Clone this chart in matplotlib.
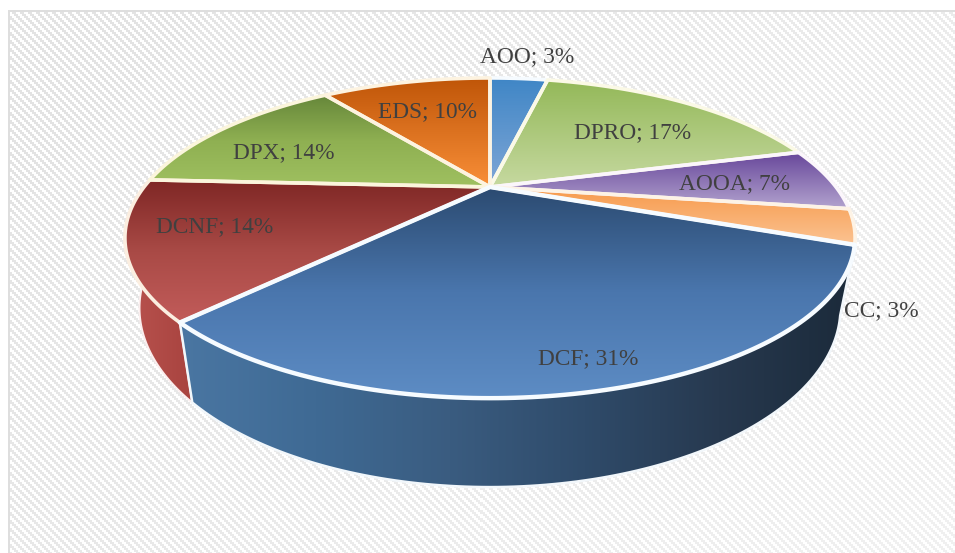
import matplotlib
matplotlib.use("Agg")
import matplotlib.pyplot as plt
from matplotlib.colors import LinearSegmentedColormap
from matplotlib.patches import Polygon
import numpy as np

names = ["AOO", "DPRO", "AOOA", "CC", "DCF", "DCNF", "DPX", "EDS"]
percents = [3, 17, 7, 3, 31, 14, 14, 10]
# slice sizes, the printed labels are rounded
sizes = [3.5, 17.3, 6.5, 3.5, 31.3, 13.7, 14.0, 10.2]

top_colors = [
    ["#3f86c6", "#7fa6d6"],
    ["#93b858", "#c6d9a0"],
    ["#67469a", "#b3a4cf"],
    ["#f79a4c", "#fbc392"],
    ["#2b4a70", "#4a76ad", "#5d8cc4"],
    ["#7f2725", "#a94a46", "#c25c5a"],
    ["#66873a", "#8fb052", "#9fc060"],
    ["#bf5508", "#f98f38"],
]
edge_colors = ["#f6fbff", "#fbf9e6", "#fbf6fb", "#fdf3e6", "#f6fbff", "#fbeee0", "#fbf5dc", "#fdf3e0"]
label_pos = [(527, 57), (633, 133), (734, 184), (881, 311),
             (588, 359), (215, 227), (284, 153), (427, 112)]

# perspective of the pie, in pixels
cx, cy = 490, 187
rx, ry, k = 346, 143.8, 0.319
# bottom ring of the cylinder
s_x, s_y, cy2 = 0.96, 1.118, 251


def rim(a1, a2, bottom=False):
    t = np.radians(np.linspace(a1, a2, 120))
    w = 1 + k * np.cos(t)
    dx = rx * np.sin(t) / w
    dy = -ry * np.cos(t) / w
    if bottom:
        return np.column_stack([cx + s_x * dx, cy2 + s_y * dy])
    return np.column_stack([cx + dx, cy + dy])


def gradient(ax, pts, colors, zorder, horizontal=False):
    cmap = LinearSegmentedColormap.from_list("g", colors)
    x0, y0 = pts.min(axis=0)
    x1, y1 = pts.max(axis=0)
    ramp = np.linspace(0, 1, 256)
    arr = ramp[None, :] if horizontal else ramp[:, None]
    im = ax.imshow(arr, cmap=cmap, extent=(x0, x1, y1, y0), origin="upper",
                   aspect="auto", vmin=0, vmax=1, zorder=zorder)
    clip = Polygon(pts, closed=True, transform=ax.transData)
    im.set_clip_path(clip)


def outline(ax, pts, color, zorder, lw=2.6):
    ax.add_patch(Polygon(pts, closed=True, fill=False, ec=color, lw=lw,
                         joinstyle="round", zorder=zorder))


fig = plt.figure(figsize=(9.55, 5.53), dpi=100)
ax = fig.add_axes([0, 0, 1, 1])
ax.axis("off")

# hatched chart background, stair steps, fades toward the lower right
yy, xx = np.mgrid[0:553, 0:955]
fade = 226 + 14 * (xx + yy) / (955 + 553)
bg = np.where((xx // 2 - yy // 2) % 4 < 2, fade, 255.0) / 255
bg[:, :8] = 1
bg[:10, :] = 1
bg[10:12, 8:] = 0.87
bg[10:, 8:10] = 0.87
ax.imshow(bg, cmap="gray", vmin=0, vmax=1, extent=(0, 955, 553, 0),
          aspect="auto", interpolation="nearest", zorder=0)

edges = np.cumsum([0] + sizes) * 3.6

# side walls, only DCNF and DCF face the viewer
i_dcf = names.index("DCF")
i_dcnf = names.index("DCNF")
wall = np.vstack([rim(edges[i_dcnf], edges[i_dcnf + 1]),
                  rim(edges[i_dcnf + 1], edges[i_dcnf], bottom=True)])
gradient(ax, wall, ["#b9534f", "#a8433f"], 1, horizontal=True)
outline(ax, wall, "#fbeeee", 1.1, lw=1.4)

wall = np.vstack([rim(edges[i_dcf], edges[i_dcf + 1]),
                  rim(edges[i_dcf + 1], edges[i_dcf], bottom=True)])
gradient(ax, wall, ["#4a76a2", "#3f6a94", "#3a5c80", "#2f4b6a", "#27394f", "#1b2a3a"], 2,
         horizontal=True)
outline(ax, wall, "#f2f7fb", 2.1, lw=1.8)

# top faces
for i in range(len(names)):
    pts = np.vstack([[cx, cy], rim(edges[i], edges[i + 1])])
    gradient(ax, pts, top_colors[i], 3)
for i in range(len(names)):
    pts = np.vstack([[cx, cy], rim(edges[i], edges[i + 1])])
    if names[i] == "DCF":
        outline(ax, pts, edge_colors[i], 4, lw=3.2)
    else:
        outline(ax, pts, edge_colors[i], 3.9)

for i in range(len(names)):
    ax.text(label_pos[i][0], label_pos[i][1], names[i] + "; " + str(percents[i]) + "%",
            family="Liberation Serif", fontsize=16.8, color="#404040",
            ha="center", va="center", zorder=5)

ax.set_xlim(0, 955)
ax.set_ylim(553, 0)
fig.savefig("out.png", dpi=100)
